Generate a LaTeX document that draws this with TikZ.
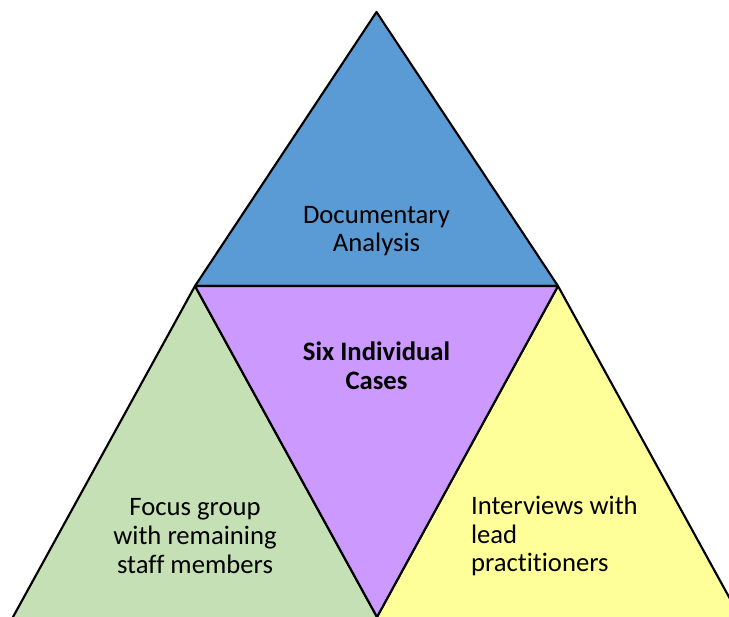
\documentclass[tikz,border=0pt]{standalone}
\usepackage{fontspec}
\setmainfont{Carlito}[Ligatures=NoCommon]
\usetikzlibrary{positioning,calc}

\tikzset{every picture/.style={line width=1.6pt}}
\tikzset{lbl/.style={inner sep=0.75pt, align=center, font=\fontsize{20}{21.5}\selectfont}}

\begin{document}
\begin{tikzpicture}[x=0.75pt,y=0.75pt,yscale=-1,xscale=1]
\useasboundingbox (0,0) rectangle (729,617);
\clip (0,0) rectangle (729,617);

%Corners
\coordinate (apex) at (376.5,12);
\coordinate (midL) at (195,286);
\coordinate (midR) at (558,286);
\coordinate (botM) at (377,617);
\coordinate (botL) at (13,617);
\coordinate (botR) at (740,617);

%Shape: Triangle [id:top] 
\draw [fill={rgb, 255:red, 91; green, 155; blue, 213 }, fill opacity=1, line join=round] (apex) -- (midL) -- (midR) -- cycle ;
%Shape: Triangle [id:left] 
\draw [fill={rgb, 255:red, 197; green, 224; blue, 180 }, fill opacity=1, line join=round] (midL) -- ($(midL)!1.1!(botL)$) -- ($(midL)!1.1!(botM)$) -- cycle ;
%Shape: Triangle [id:right] 
\draw [fill={rgb, 255:red, 255; green, 255; blue, 153 }, fill opacity=1, line join=round] (midR) -- ($(midR)!1.1!(botM)$) -- ($(midR)!1.1!(botR)$) -- cycle ;
%Shape: Triangle [id:middle] 
\draw [fill={rgb, 255:red, 204; green, 153; blue, 255 }, fill opacity=1, line join=round] (midL) -- (midR) -- (botM) -- cycle ;

% Text Node
\node [lbl] (docs) at (376.5,231) {Documentary\\Analysis};
% Text Node
\node [lbl, font=\fontsize{20}{21.5}\selectfont\bfseries] (cases) at (376.5,366) {Six Individual\\Cases};
% Text Node
\node [lbl] (focus) at (195,536) {Focus group\\with remaining\\staff members};
% Text Node
\node [lbl, align=left, anchor=west] (inter) at (469,536) {Interviews with\\lead\\practitioners};

\end{tikzpicture}
\end{document}
